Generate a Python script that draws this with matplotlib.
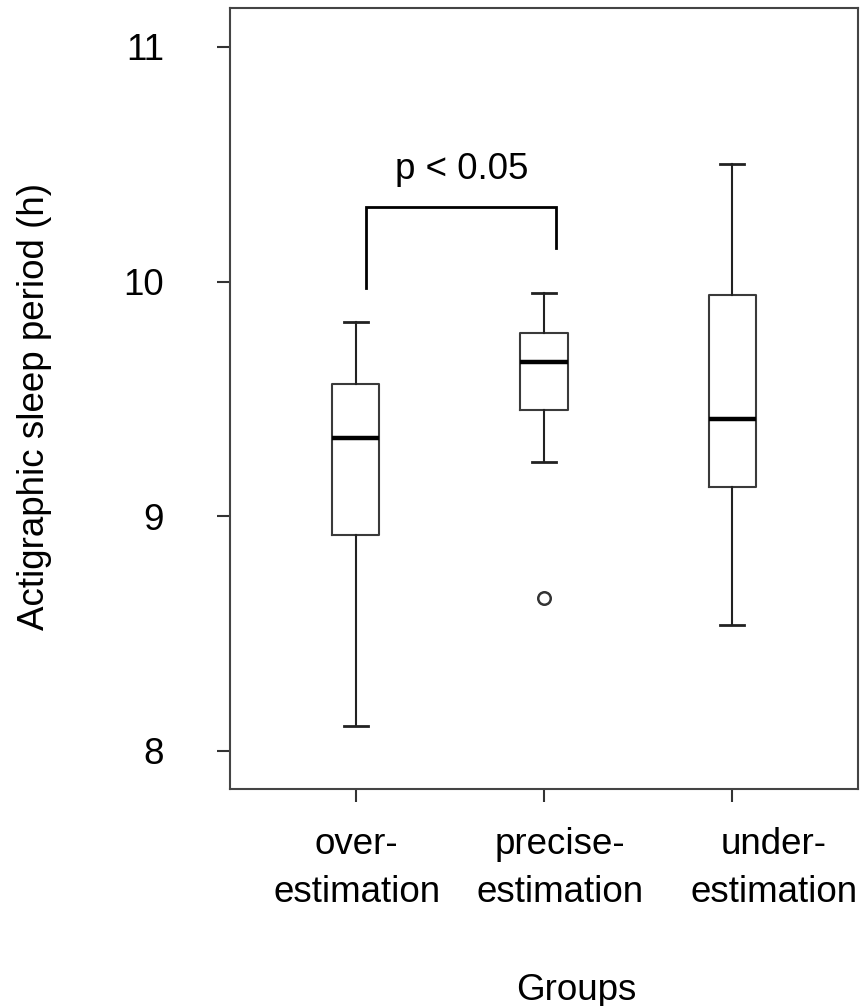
import matplotlib
matplotlib.use("Agg")
import matplotlib.pyplot as plt

categories = ["over-\nestimation", "precise-\nestimation", "under-\nestimation"]
whisker_low = [8.107, 9.231, 8.537]
q1 = [8.919, 9.452, 9.124]
medians = [9.333, 9.657, 9.414]
q3 = [9.563, 9.781, 9.942]
whisker_high = [9.827, 9.951, 10.501]
outliers = [[], [8.651], []]
yticks = [8, 9, 10, 11]
sig_text = "p < 0.05"

plt.rcParams['font.family'] = ['Liberation Sans', 'DejaVu Sans']
FS = 26.5

fig = plt.figure(figsize=(8.63, 10.06), dpi=100)
ax = fig.add_axes([230/863, 1-789/1006, 628/863, 781/1006])

positions = [1, 2, 3]
stats = []
for i in range(3):
    stats.append(dict(med=medians[i], q1=q1[i], q3=q3[i],
                      whislo=whisker_low[i], whishi=whisker_high[i],
                      fliers=outliers[i]))

ax.bxp(stats, positions=positions, widths=0.25, showfliers=True,
       boxprops=dict(color='#3a3a3a', linewidth=1.5),
       whiskerprops=dict(color='#222222', linewidth=1.5),
       capprops=dict(color='#222222', linewidth=2.0),
       medianprops=dict(color='black', linewidth=3.2),
       flierprops=dict(marker='o', markersize=9, markerfacecolor='none',
                       markeredgecolor='#333333', markeredgewidth=1.8))

ax.set_xlim(0.33, 3.67)
ax.set_ylim(7.838, 11.166)

# major ticks at the box positions (no labels); labels sit on minor ticks,
# placed slightly to the right as in the reference layout
ax.set_xticks(positions)
ax.set_xticklabels([""] * 3)
label_offsets = [0.004, 0.085, 0.223]
ax.set_xticks([p + o for p, o in zip(positions, label_offsets)], minor=True)
ax.set_xticklabels(categories, minor=True, fontsize=FS, linespacing=1.5)
ax.tick_params(axis='x', which='major', length=9.4, width=1.5, color='#333333')
ax.tick_params(axis='x', which='minor', length=0, pad=27)

ax.set_yticks(yticks)
ax.set_yticklabels([str(t) for t in yticks], fontsize=FS)
ax.tick_params(axis='y', length=9.4, width=1.5, color='#333333', pad=38)
for s in ax.spines.values():
    s.set_color('#444444')
    s.set_linewidth(1.5)

# significance bracket
bx = [1.055, 1.055, 2.065, 2.065]
by = [9.972, 10.317, 10.317, 10.143]
ax.plot(bx, by, color='black', linewidth=2.0, solid_joinstyle='miter')
ax.text(1.56, 10.437, sig_text, fontsize=FS, ha='center', va='baseline')

ax.set_xlabel("Groups", fontsize=FS, va='baseline')
ax.xaxis.set_label_coords((576-230)/628, (789-1000)/781)
ax.set_ylabel("Actigraphic sleep period (h)", fontsize=FS, va='center')
ax.yaxis.set_label_coords((35-230)/628, (789-407)/781)

fig.savefig("out.png", dpi=100)
